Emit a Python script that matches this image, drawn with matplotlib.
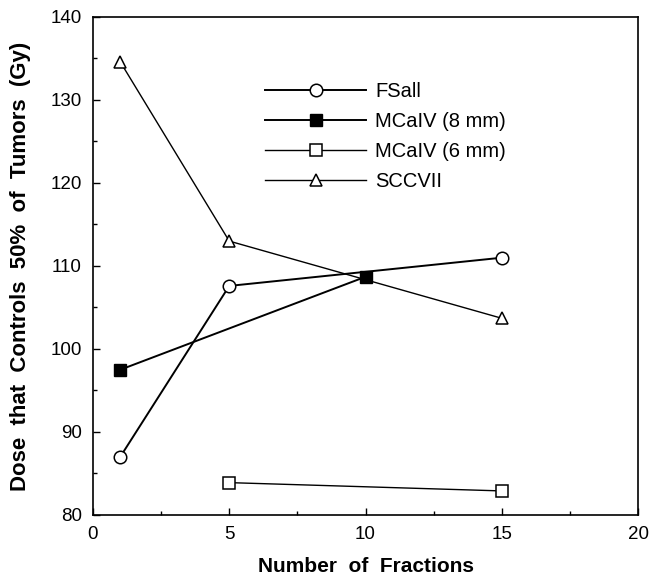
import numpy as np
import matplotlib
matplotlib.use("Agg")
import matplotlib.pyplot as plt
from matplotlib.ticker import MultipleLocator

plt.rcParams["font.family"] = ["Liberation Sans", "DejaVu Sans"]

# values
fsall_x = [1, 5, 15]
fsall_y = [87.0, 107.6, 111.0]
mca8_x = [1, 10]
mca8_y = [97.5, 108.7]
mca6_x = [5, 15]
mca6_y = [83.9, 82.9]
scc_x = [1, 5, 15]
scc_y = [134.6, 113.0, 103.7]

fig = plt.figure(figsize=(6.52, 5.78), dpi=100)
ax = fig.add_axes([0.1426, 0.109, 0.836, 0.8616])

ms = 9
ax.plot(fsall_x, fsall_y, color="black", lw=1.4, marker="o", ms=ms,
        mfc="white", mec="black", mew=1.1, label="FSall")
ax.plot(mca8_x, mca8_y, color="black", lw=1.4, marker="s", ms=ms,
        mfc="black", mec="black", label="MCaIV (8 mm)")
ax.plot(mca6_x, mca6_y, color="black", lw=1.0, marker="s", ms=ms,
        mfc="white", mec="black", mew=1.1, label="MCaIV (6 mm)")
ax.plot(scc_x, scc_y, color="black", lw=1.0, marker="^", ms=ms,
        mfc="white", mec="black", mew=1.1, label="SCCVII")

ax.set_xlim(0, 20)
ax.set_ylim(80, 140)
ax.xaxis.set_major_locator(MultipleLocator(5))
ax.xaxis.set_minor_locator(MultipleLocator(2.5))
ax.yaxis.set_major_locator(MultipleLocator(10))
ax.yaxis.set_minor_locator(MultipleLocator(5))
ax.tick_params(which="both", direction="in", top=False, right=False,
               labelsize=13.5, width=1)
ax.tick_params(which="major", length=5)
ax.tick_params(which="minor", length=3)
ax.tick_params(axis="x", which="major", pad=8)
ax.tick_params(axis="y", which="major", pad=8)
for s in ax.spines.values():
    s.set_linewidth(1.2)

ax.set_xlabel("Number  of  Fractions", fontsize=15, fontweight="bold", labelpad=10)
ax.set_ylabel("Dose  that  Controls  50%  of  Tumors  (Gy)", fontsize=16,
              fontweight="bold", labelpad=14)

leg = ax.legend(loc="upper left", bbox_to_anchor=(0.283, 0.906), frameon=False,
                fontsize=14.5, handlelength=5.0, labelspacing=0.55,
                handletextpad=0.45)

fig.savefig("out.png", dpi=100)
